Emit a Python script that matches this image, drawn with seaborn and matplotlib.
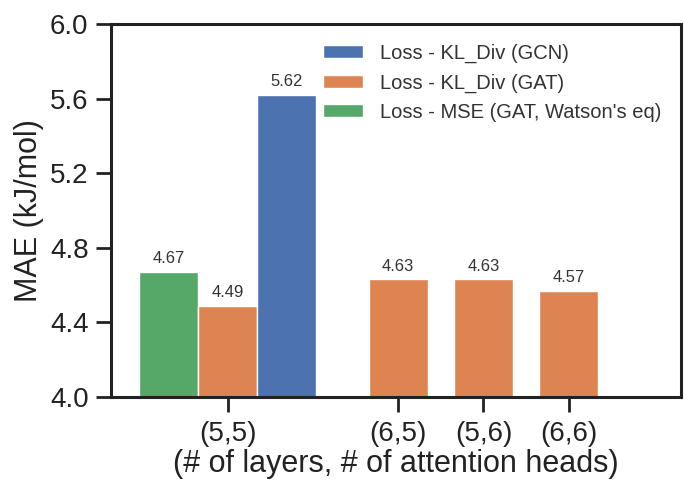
import matplotlib
matplotlib.use("Agg")
import matplotlib.pyplot as plt
import seaborn as sns
import pandas as pd

# ---- data ----
configs = ["(5,5)", "(5,5)", "(5,5)", "(6,5)", "(5,6)", "(6,6)"]
losses = ["Loss - MSE (GAT, Watson's eq)", "Loss - KL_Div (GAT)", "Loss - KL_Div (GCN)",
          "Loss - KL_Div (GAT)", "Loss - KL_Div (GAT)", "Loss - KL_Div (GAT)"]
mae = [4.67, 4.49, 5.62, 4.63, 4.63, 4.57]

category_order = ["(5,5)", " ", "(6,5)", "(5,6)", "(6,6)"]
hue_order = ["Loss - MSE (GAT, Watson's eq)", "Loss - KL_Div (GAT)", "Loss - KL_Div (GCN)"]
legend_order = ["Loss - KL_Div (GCN)", "Loss - KL_Div (GAT)", "Loss - MSE (GAT, Watson's eq)"]
y_ticks = [4.0, 4.4, 4.8, 5.2, 5.6, 6.0]

df = pd.DataFrame({"config": configs, "loss": losses, "mae": mae})

sns.set_theme(style="ticks")
plt.rcParams["font.family"] = ["Liberation Sans", "DejaVu Sans"]

deep = sns.color_palette("deep")
palette = {"Loss - KL_Div (GCN)": deep[0],
           "Loss - KL_Div (GAT)": deep[1],
           "Loss - MSE (GAT, Watson's eq)": deep[2]}

fig = plt.figure(figsize=(6.84, 4.8), dpi=100)
ax = fig.add_axes([0.162, 0.173, 0.834, 0.777])

sns.barplot(data=df, x="config", y="mae", hue="loss", order=category_order,
            hue_order=hue_order, palette=palette, width=2.07, dodge=True,
            ax=ax, saturation=1, linewidth=1, edgecolor="white")

for cont in ax.containers:
    ax.bar_label(cont, fmt="%.2f", padding=4, fontsize=12, color="#333333")

ax.set_ylim(4.0, 6.0)
ax.set_yticks(y_ticks)
ax.set_yticklabels([f"{t:.1f}" for t in y_ticks])
ax.set_xlim(-1.37, 5.32)
ax.set_xticks([0, 2, 3, 4])
ax.set_xticklabels(["(5,5)", "(6,5)", "(5,6)", "(6,6)"])

ax.set_ylabel("MAE (kJ/mol)", fontsize=22, color="#222222")
ax.set_xlabel("(# of layers, # of attention heads)", fontsize=22, color="#222222", labelpad=2)
ax.tick_params(axis="both", labelsize=20, length=11, width=2, colors="#222222", pad=5)
ax.tick_params(axis="x", pad=6)

for sp in ax.spines.values():
    sp.set_linewidth(2.2)
    sp.set_color("#222222")

handles, labels = ax.get_legend_handles_labels()
hmap = dict(zip(labels, handles))
ax.legend([hmap[l] for l in legend_order], legend_order, loc="upper left",
          bbox_to_anchor=(0.357, 0.968), borderaxespad=0, frameon=False,
          fontsize=14.5, handlelength=2.0, handleheight=0.6, handletextpad=0.85,
          labelspacing=0.5, labelcolor="#333333")

fig.savefig("out.png", dpi=100)
